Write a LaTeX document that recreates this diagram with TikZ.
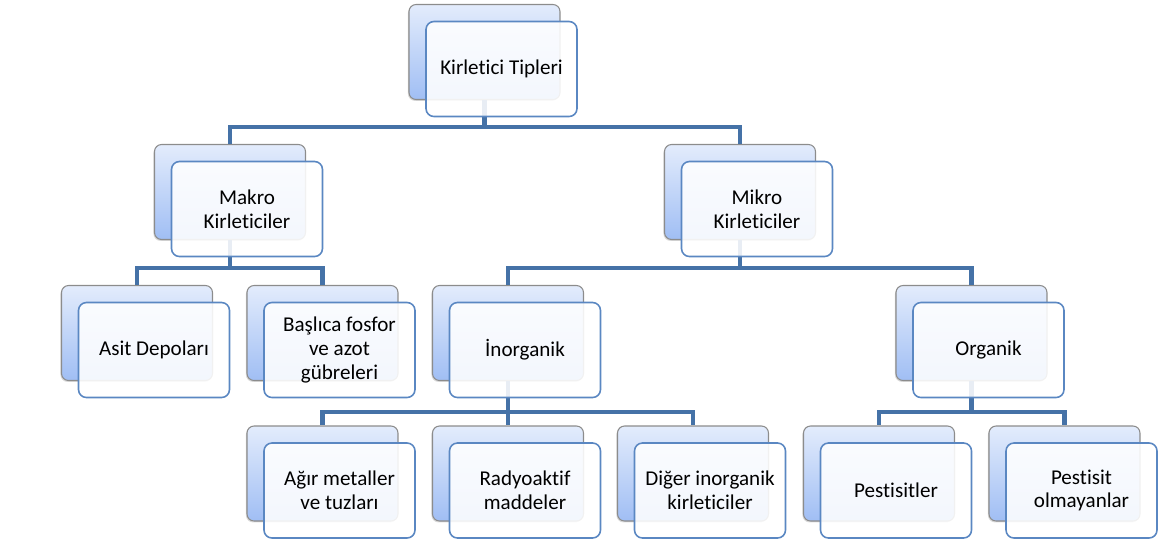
\documentclass[tikz,border=0pt]{standalone}
\usepackage{fontspec}
\setmainfont{Carlito}[Ligatures=NoCommon]
\usetikzlibrary{shadows}
\definecolor{barblue}{HTML}{4572A7}
\definecolor{edgeblue}{HTML}{5A87C2}
\definecolor{backtop}{HTML}{E3ECFC}
\definecolor{backbot}{HTML}{A0BEF4}
\begin{document}
\begin{tikzpicture}[x=0.02cm,y=-0.02cm,
    backbox/.style={draw=black!45, rounded corners=4pt, minimum width=3.02cm, minimum height=1.9cm,
      top color=backtop, bottom color=backbot, line width=0.6pt,
      drop shadow={shadow xshift=-0.6pt, shadow yshift=-0.8pt, opacity=0.3}},
    frontbox/.style={draw=edgeblue, rounded corners=4.5pt, minimum width=3.02cm, minimum height=1.9cm,
      fill=white, fill opacity=0.88, text opacity=1, line width=0.9pt,
      align=center, font=\fontsize{12}{13.5}\selectfont},
    conn/.style={draw=barblue, line width=2.6pt}]
  \useasboundingbox (0,0) rectangle (1160,542);
  % bar heights
  \coordinate (bar1) at (0,127);
  \coordinate (bar2) at (0,268);
  \coordinate (bar3) at (0,412);
  % back boxes
  \node[backbox] (tipB) at (484.5,52) {};
  \node[backbox] (makroB) at (230,192) {};
  \node[backbox] (mikroB) at (740,192) {};
  \node[backbox] (asitB) at (137,333) {};
  \node[backbox] (fosforB) at (322.5,333) {};
  \node[backbox] (inorgB) at (508,333) {};
  \node[backbox] (orgB) at (971.5,333) {};
  \node[backbox] (agirB) at (322.5,473.5) {};
  \node[backbox] (radyoB) at (508,473.5) {};
  \node[backbox] (digerB) at (693,473.5) {};
  \node[backbox] (pestB) at (879,473.5) {};
  \node[backbox] (olmB) at (1064.5,473.5) {};
  % connectors
  \draw[conn] (tipB.south) -- (tipB.south |- bar1) -| (makroB.north);
  \draw[conn] (tipB.south) -- (tipB.south |- bar1) -| (mikroB.north);
  \draw[conn] (makroB.south) -- (makroB.south |- bar2) -| (asitB.north);
  \draw[conn] (makroB.south) -- (makroB.south |- bar2) -| (fosforB.north);
  \draw[conn] (mikroB.south) -- (mikroB.south |- bar2) -| (inorgB.north);
  \draw[conn] (mikroB.south) -- (mikroB.south |- bar2) -| (orgB.north);
  \draw[conn] (inorgB.south) -- (inorgB.south |- bar3) -| (agirB.north);
  \draw[conn] (inorgB.south) -- (inorgB.south |- bar3) -| (radyoB.north);
  \draw[conn] (inorgB.south) -- (inorgB.south |- bar3) -| (digerB.north);
  \draw[conn] (orgB.south) -- (orgB.south |- bar3) -| (pestB.north);
  \draw[conn] (orgB.south) -- (orgB.south |- bar3) -| (olmB.north);
  % front boxes
  \node[frontbox] (tip) at (501.5,69) {Kirletici Tipleri};
  \node[frontbox] (makro) at (247,209) {Makro\\Kirleticiler};
  \node[frontbox] (mikro) at (757,209) {Mikro\\Kirleticiler};
  \node[frontbox] (asit) at (154,350) {Asit Depoları};
  \node[frontbox] (fosfor) at (339.5,350) {Başlıca fosfor\\ve azot\\gübreleri};
  \node[frontbox] (inorg) at (525,350) {İnorganik};
  \node[frontbox] (org) at (988.5,350) {Organik};
  \node[frontbox] (agir) at (339.5,490.5) {Ağır metaller\\ve tuzları};
  \node[frontbox] (radyo) at (525,490.5) {Radyoaktif\\maddeler};
  \node[frontbox] (diger) at (710,490.5) {Diğer inorganik\\kirleticiler};
  \node[frontbox] (pest) at (896,490.5) {Pestisitler};
  \node[frontbox] (olm) at (1081.5,490.5) {Pestisit\\olmayanlar};
\end{tikzpicture}
\end{document}
